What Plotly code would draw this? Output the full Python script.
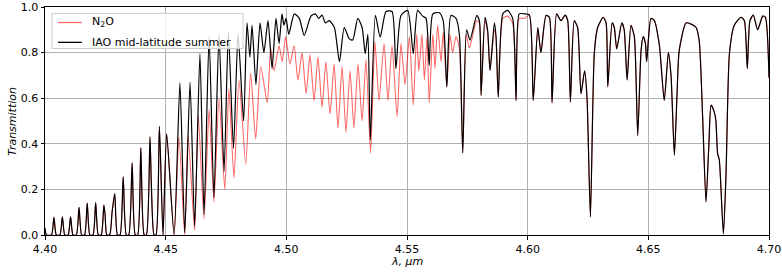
import plotly.graph_objects as go

# ---- data (wavelength in um, transmission) ----
# shared part 4.40-4.45 um (both curves coincide)
low_wl = [4.4000, 4.4006, 4.4027, 4.4037, 4.4047, 4.4062, 4.4072, 4.4082, 4.4096, 4.4106,
          4.4116, 4.4130, 4.4141, 4.4152, 4.4164, 4.4175, 4.4186, 4.4199, 4.4210, 4.4221,
          4.4233, 4.4244, 4.4249, 4.4256, 4.4268, 4.4278, 4.4289, 4.4300, 4.4311, 4.4324,
          4.4337, 4.4347, 4.4361, 4.4374, 4.4384, 4.4397, 4.4411, 4.4420, 4.4435, 4.4441,
          4.4452, 4.4460, 4.4474, 4.4489, 4.4504]
low_t = [0.03, 0.0, 0.0, 0.077, 0.0, 0.0, 0.080, 0.0, 0.0, 0.080,
         0.0, 0.0, 0.121, 0.0, 0.0, 0.140, 0.0, 0.0, 0.142, 0.0,
         0.0, 0.131, 0.090, 0.0, 0.0, 0.100, 0.182, 0.0, 0.0, 0.255,
         0.0, 0.0, 0.316, 0.0, 0.0, 0.382, 0.0, 0.0, 0.430, 0.21,
         0.0, 0.0, 0.477, 0.0, 0.445]

# IAO mid-latitude summer, 4.45-4.60 um
iao_mid_wl = [4.4535, 4.4559, 4.4579, 4.4601, 4.4620, 4.4642, 4.4659, 4.4680, 4.4700, 4.4721,
              4.4742, 4.4760, 4.4781, 4.4800, 4.4823, 4.4837, 4.4849, 4.4858, 4.4874, 4.4891,
              4.4907, 4.4924, 4.4941, 4.4957, 4.4970, 4.4982, 4.4990, 4.4999, 4.5010, 4.5033,
              4.5054, 4.5074, 4.5102, 4.5120, 4.5134, 4.5148, 4.5162, 4.5178, 4.5199, 4.5220,
              4.5240, 4.5261, 4.5275, 4.5296, 4.5314, 4.5327, 4.5338, 4.5348, 4.5369, 4.5389,
              4.5413, 4.5438, 4.5454, 4.5475, 4.5503, 4.5526, 4.5544, 4.5565, 4.5579, 4.5592,
              4.5607, 4.5634, 4.5650, 4.5665, 4.5682, 4.5703, 4.5717, 4.5731, 4.5747, 4.5761,
              4.5789, 4.5800, 4.5807, 4.5823, 4.5834, 4.5844, 4.5862, 4.5869, 4.5878, 4.5897,
              4.5917, 4.5938, 4.5952, 4.5965, 4.5986]
iao_mid_t = [0.0, 0.667, 0.01, 0.67, 0.04, 0.795, 0.09, 0.87, 0.165, 0.88,
             0.28, 0.89, 0.38, 0.88, 0.50, 0.93, 0.78, 0.92, 0.66, 0.93,
             0.80, 0.94, 0.73, 0.95, 0.84, 0.97, 0.92, 0.95, 0.88, 0.97,
             0.95, 0.875, 0.96, 0.97, 0.95, 0.965, 0.93, 0.94, 0.91, 0.76,
             0.91, 0.86, 0.855, 0.95, 0.91, 0.795, 0.88, 0.416, 0.963, 0.868,
             0.98, 0.98, 0.73, 0.963, 0.985, 0.795, 0.985, 0.96, 0.95, 0.744,
             0.97, 0.975, 0.94, 0.65, 0.963, 0.95, 0.88, 0.36, 0.90, 0.855,
             0.963, 0.94, 0.612, 0.955, 0.90, 0.722, 0.93, 0.87, 0.605, 0.97,
             0.985, 0.95, 0.59, 0.97, 0.97]

# N2O only, 4.45-4.60 um
n2o_mid_wl = [4.4535, 4.4555, 4.4579, 4.4593, 4.4620, 4.4635, 4.4659, 4.4680, 4.4700, 4.4721,
              4.4745, 4.4762, 4.4783, 4.4804, 4.4832, 4.4852, 4.4873, 4.4894, 4.4921, 4.4935,
              4.4949, 4.4970, 4.4983, 4.4997, 4.5015, 4.5032, 4.5048, 4.5065, 4.5082, 4.5098,
              4.5115, 4.5131, 4.5148, 4.5164, 4.5181, 4.5198, 4.5214, 4.5231, 4.5247, 4.5264,
              4.5280, 4.5297, 4.5314, 4.5330, 4.5349, 4.5367, 4.5384, 4.5405, 4.5421, 4.5438,
              4.5459, 4.5475, 4.5492, 4.5510, 4.5526, 4.5540, 4.5549, 4.5562, 4.5572, 4.5583,
              4.5592, 4.5607, 4.5616, 4.5627, 4.5641, 4.5650, 4.5665, 4.5678, 4.5689, 4.5703,
              4.5717, 4.5731, 4.5745, 4.5758, 4.5769, 4.5789, 4.5800, 4.5807, 4.5823, 4.5834,
              4.5844, 4.5862, 4.5869, 4.5878, 4.5897, 4.5917, 4.5938, 4.5952, 4.5965, 4.5986]
n2o_mid_t = [0.0, 0.43, 0.0, 0.44, 0.02, 0.525, 0.07, 0.55, 0.145, 0.60,
             0.20, 0.64, 0.25, 0.68, 0.31, 0.71, 0.42, 0.74, 0.58, 0.82,
             0.72, 0.83, 0.76, 0.87, 0.75, 0.83, 0.68, 0.80, 0.62, 0.79,
             0.59, 0.78, 0.56, 0.76, 0.53, 0.75, 0.47, 0.74, 0.45, 0.72,
             0.47, 0.75, 0.50, 0.77, 0.36, 0.85, 0.59, 0.84, 0.59, 0.83,
             0.52, 0.84, 0.66, 0.87, 0.57, 0.88, 0.72, 0.88, 0.68, 0.87,
             0.58, 0.88, 0.73, 0.92, 0.76, 0.89, 0.65, 0.88, 0.80, 0.87,
             0.82, 0.36, 0.88, 0.82, 0.86, 0.94, 0.93, 0.612, 0.94, 0.89,
             0.722, 0.90, 0.86, 0.605, 0.95, 0.96, 0.93, 0.59, 0.95, 0.95]

# shared part 4.60-4.70 um (both curves coincide)
high_wl = [4.6007, 4.6023, 4.6042, 4.6055, 4.6076, 4.6090, 4.6101, 4.6120, 4.6138, 4.6155,
           4.6166, 4.6177, 4.6193, 4.6207, 4.6221, 4.6236, 4.6246, 4.6260, 4.6276, 4.6290,
           4.6313, 4.6325, 4.6332, 4.6350, 4.6359, 4.6369, 4.6390, 4.6400, 4.6412, 4.6428,
           4.6442, 4.6456, 4.6470, 4.6479, 4.6488, 4.6493, 4.6511, 4.6525, 4.6546, 4.6566,
           4.6583, 4.6594, 4.6608, 4.6619, 4.6628, 4.6656, 4.6677, 4.6698, 4.6711, 4.6725,
           4.6739, 4.6751, 4.6760, 4.6773, 4.6780, 4.6787, 4.6794, 4.6811, 4.6822, 4.6836,
           4.6856, 4.6884, 4.6898, 4.6910, 4.6921, 4.6935, 4.6953, 4.6974, 4.6985, 4.7000]
high_t = [0.965, 0.59, 0.91, 0.80, 0.963, 0.955, 0.58, 0.97, 0.94, 0.965,
          0.94, 0.583, 0.94, 0.91, 0.62, 0.72, 0.60, 0.08, 0.795, 0.91,
          0.955, 0.93, 0.65, 0.93, 0.91, 0.816, 0.93, 0.90, 0.68, 0.92,
          0.87, 0.437, 0.81, 0.87, 0.84, 0.76, 0.95, 0.94, 0.83, 0.59,
          0.80, 0.70, 0.35, 0.62, 0.81, 0.93, 0.925, 0.91, 0.85, 0.518,
          0.145, 0.40, 0.57, 0.54, 0.50, 0.357, 0.33, 0.005, 0.27, 0.795,
          0.92, 0.955, 0.94, 0.73, 0.94, 0.965, 0.90, 0.96, 0.955, 0.69]

x_ticks = [4.40, 4.45, 4.50, 4.55, 4.60, 4.65, 4.70]
y_ticks = [0.0, 0.2, 0.4, 0.6, 0.8, 1.0]

n2o_wl = low_wl + n2o_mid_wl + high_wl
n2o_t = low_t + n2o_mid_t + high_t
iao_wl = low_wl + iao_mid_wl + high_wl
iao_t = low_t + iao_mid_t + high_t

FONT = "DejaVu Sans"
RED = "rgba(255,0,0,0.6)"

fig = go.Figure()
fig.add_trace(go.Scatter(x=n2o_wl, y=n2o_t, mode="lines", name="N<sub>2</sub>O",
                         line=dict(color=RED, width=1.1, shape="spline", smoothing=0.6),
                         hoverinfo="skip"))
fig.add_trace(go.Scatter(x=iao_wl, y=iao_t, mode="lines", name="IAO mid-latitude summer",
                         line=dict(color="black", width=1.2, shape="spline", smoothing=0.6),
                         hoverinfo="skip"))

axis_common = dict(showgrid=True, gridcolor="#b0b0b0", gridwidth=0.8,
                   showline=True, linecolor="black", linewidth=1, mirror=True,
                   ticks="outside", ticklen=3.5, tickcolor="black", zeroline=False,
                   automargin=False, tickfont=dict(family=FONT, size=11))

# legend box drawn in the top-left corner of the axes (paper coordinates)
shapes = [
    dict(type="rect", xref="paper", yref="paper", x0=0.0097, x1=0.2735, y0=0.818, y1=0.972,
         line=dict(color="#cccccc", width=1), fillcolor="rgba(255,255,255,0.8)", layer="above"),
    dict(type="line", xref="paper", yref="paper", x0=0.018, x1=0.051, y0=0.932, y1=0.932,
         line=dict(color=RED, width=1.3), layer="above"),
    dict(type="line", xref="paper", yref="paper", x0=0.018, x1=0.051, y0=0.845, y1=0.845,
         line=dict(color="black", width=1.3), layer="above"),
]
annotations = [
    dict(text="N<sub>2</sub>O", xref="paper", yref="paper", x=0.0615, y=0.934,
         xanchor="left", yanchor="middle", showarrow=False, font=dict(family=FONT, size=11)),
    dict(text="IAO mid-latitude summer", xref="paper", yref="paper", x=0.0615, y=0.845,
         xanchor="left", yanchor="middle", showarrow=False, font=dict(family=FONT, size=11)),
    dict(text="<i>λ, μm</i>", xref="paper", yref="paper", x=0.5, y=-0.118,
         xanchor="center", yanchor="middle", showarrow=False, font=dict(family=FONT, size=11)),
    dict(text="<i>Transmittion</i>", xref="paper", yref="paper", x=-0.0456, y=0.5,
         xanchor="center", yanchor="middle", textangle=-90, showarrow=False,
         font=dict(family=FONT, size=11)),
]

fig.update_layout(
    width=782, height=274,
    margin=dict(l=45, r=13, t=6.5, b=39),
    paper_bgcolor="white", plot_bgcolor="white",
    font=dict(family=FONT, size=11, color="black"),
    showlegend=False,
    hovermode=False,
    shapes=shapes,
    annotations=annotations,
)
fig.update_xaxes(range=[4.40, 4.70], tickvals=x_ticks,
                 ticktext=[f"{v:.2f}" for v in x_ticks], **axis_common)
fig.update_yaxes(range=[0, 1.0], tickvals=y_ticks,
                 ticktext=[f"{v:.1f}" for v in y_ticks], **axis_common)

fig.write_html("out.html", config={"displayModeBar": False},
               post_script="document.body.style.margin='0px';")
